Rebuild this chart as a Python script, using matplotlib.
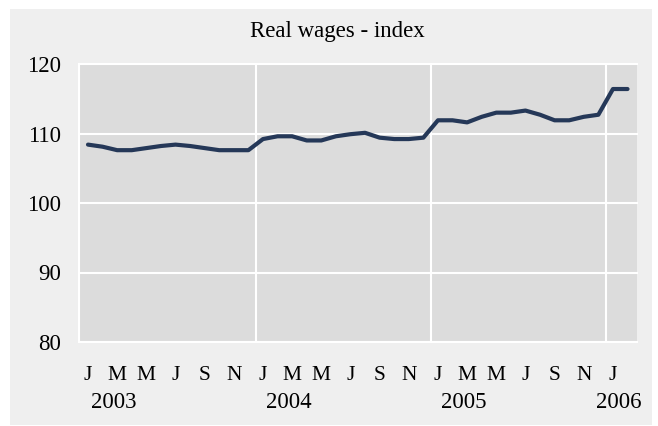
import matplotlib
matplotlib.use("Agg")
import matplotlib.pyplot as plt
from matplotlib.patches import Rectangle
from matplotlib.transforms import blended_transform_factory

# Monthly real wages index, Jan 2003 - Feb 2006
values = [108.4, 108.1, 107.6, 107.6, 107.9, 108.2, 108.4, 108.2, 107.9, 107.6, 107.6, 107.6,
          109.2, 109.6, 109.6, 109.0, 109.0, 109.6, 109.9, 110.1, 109.4, 109.2, 109.2, 109.4,
          111.9, 111.9, 111.6, 112.4, 113.0, 113.0, 113.3, 112.7, 111.9, 111.9, 112.4, 112.7,
          116.4, 116.4]
month_labels = ["J", "M", "M", "J", "S", "N"] * 3 + ["J"]
month_positions = list(range(0, 37, 2))
year_labels = ["2003", "2004", "2005", "2006"]
year_positions = [1.8, 13.8, 25.8, 36.4]
year_breaks = [11.5, 23.5, 35.5]
y_ticks = [80, 90, 100, 110, 120]

plt.rcParams['font.family'] = ['Liberation Serif', 'DejaVu Serif']

W, H = 658, 426
fig = plt.figure(figsize=(W / 100, H / 100), dpi=100, facecolor="white")
fig.patches.append(Rectangle((10 / W, 1 - 425 / H), 642 / W, 416 / H, transform=fig.transFigure,
                             facecolor="#efefef", edgecolor="none", zorder=-10))

ax = fig.add_axes([79 / W, 1 - 342 / H, (637 - 79) / W, (342 - 64) / H])
ax.set_facecolor("#dcdcdc")
ax.set_xlim(-0.617, 37.65)
ax.set_ylim(80, 120)

for y in y_ticks:
    ax.axhline(y, color="white", lw=1.5, zorder=1, clip_on=False)
for xb in year_breaks:
    ax.axvline(xb, color="white", lw=1.5, zorder=1)

ax.plot(range(len(values)), values, color="#253858", lw=3.0, zorder=3,
        solid_capstyle="round", solid_joinstyle="round")

for s in ["top", "right", "bottom"]:
    ax.spines[s].set_visible(False)
ax.spines["left"].set_color("white")
ax.spines["left"].set_linewidth(1.5)

ax.set_yticks(y_ticks)
ax.set_yticklabels([str(v) for v in y_ticks], fontsize=16.5)
ax.set_xticks(month_positions)
ax.set_xticklabels(month_labels, fontsize=15.5)
ax.tick_params(axis="both", length=0)
ax.tick_params(axis="y", pad=13)
ax.tick_params(axis="x", pad=17)

trans = blended_transform_factory(ax.transData, fig.transFigure)
for lab, pos in zip(year_labels, year_positions):
    ax.text(pos, 1 - 403 / H, lab, transform=trans, ha="center", va="center", fontsize=16.5)

fig.text(337 / W, 1 - 31 / H, "Real wages - index", ha="center", va="center", fontsize=16.5)

fig.savefig("out.png", dpi=100, facecolor="white")
